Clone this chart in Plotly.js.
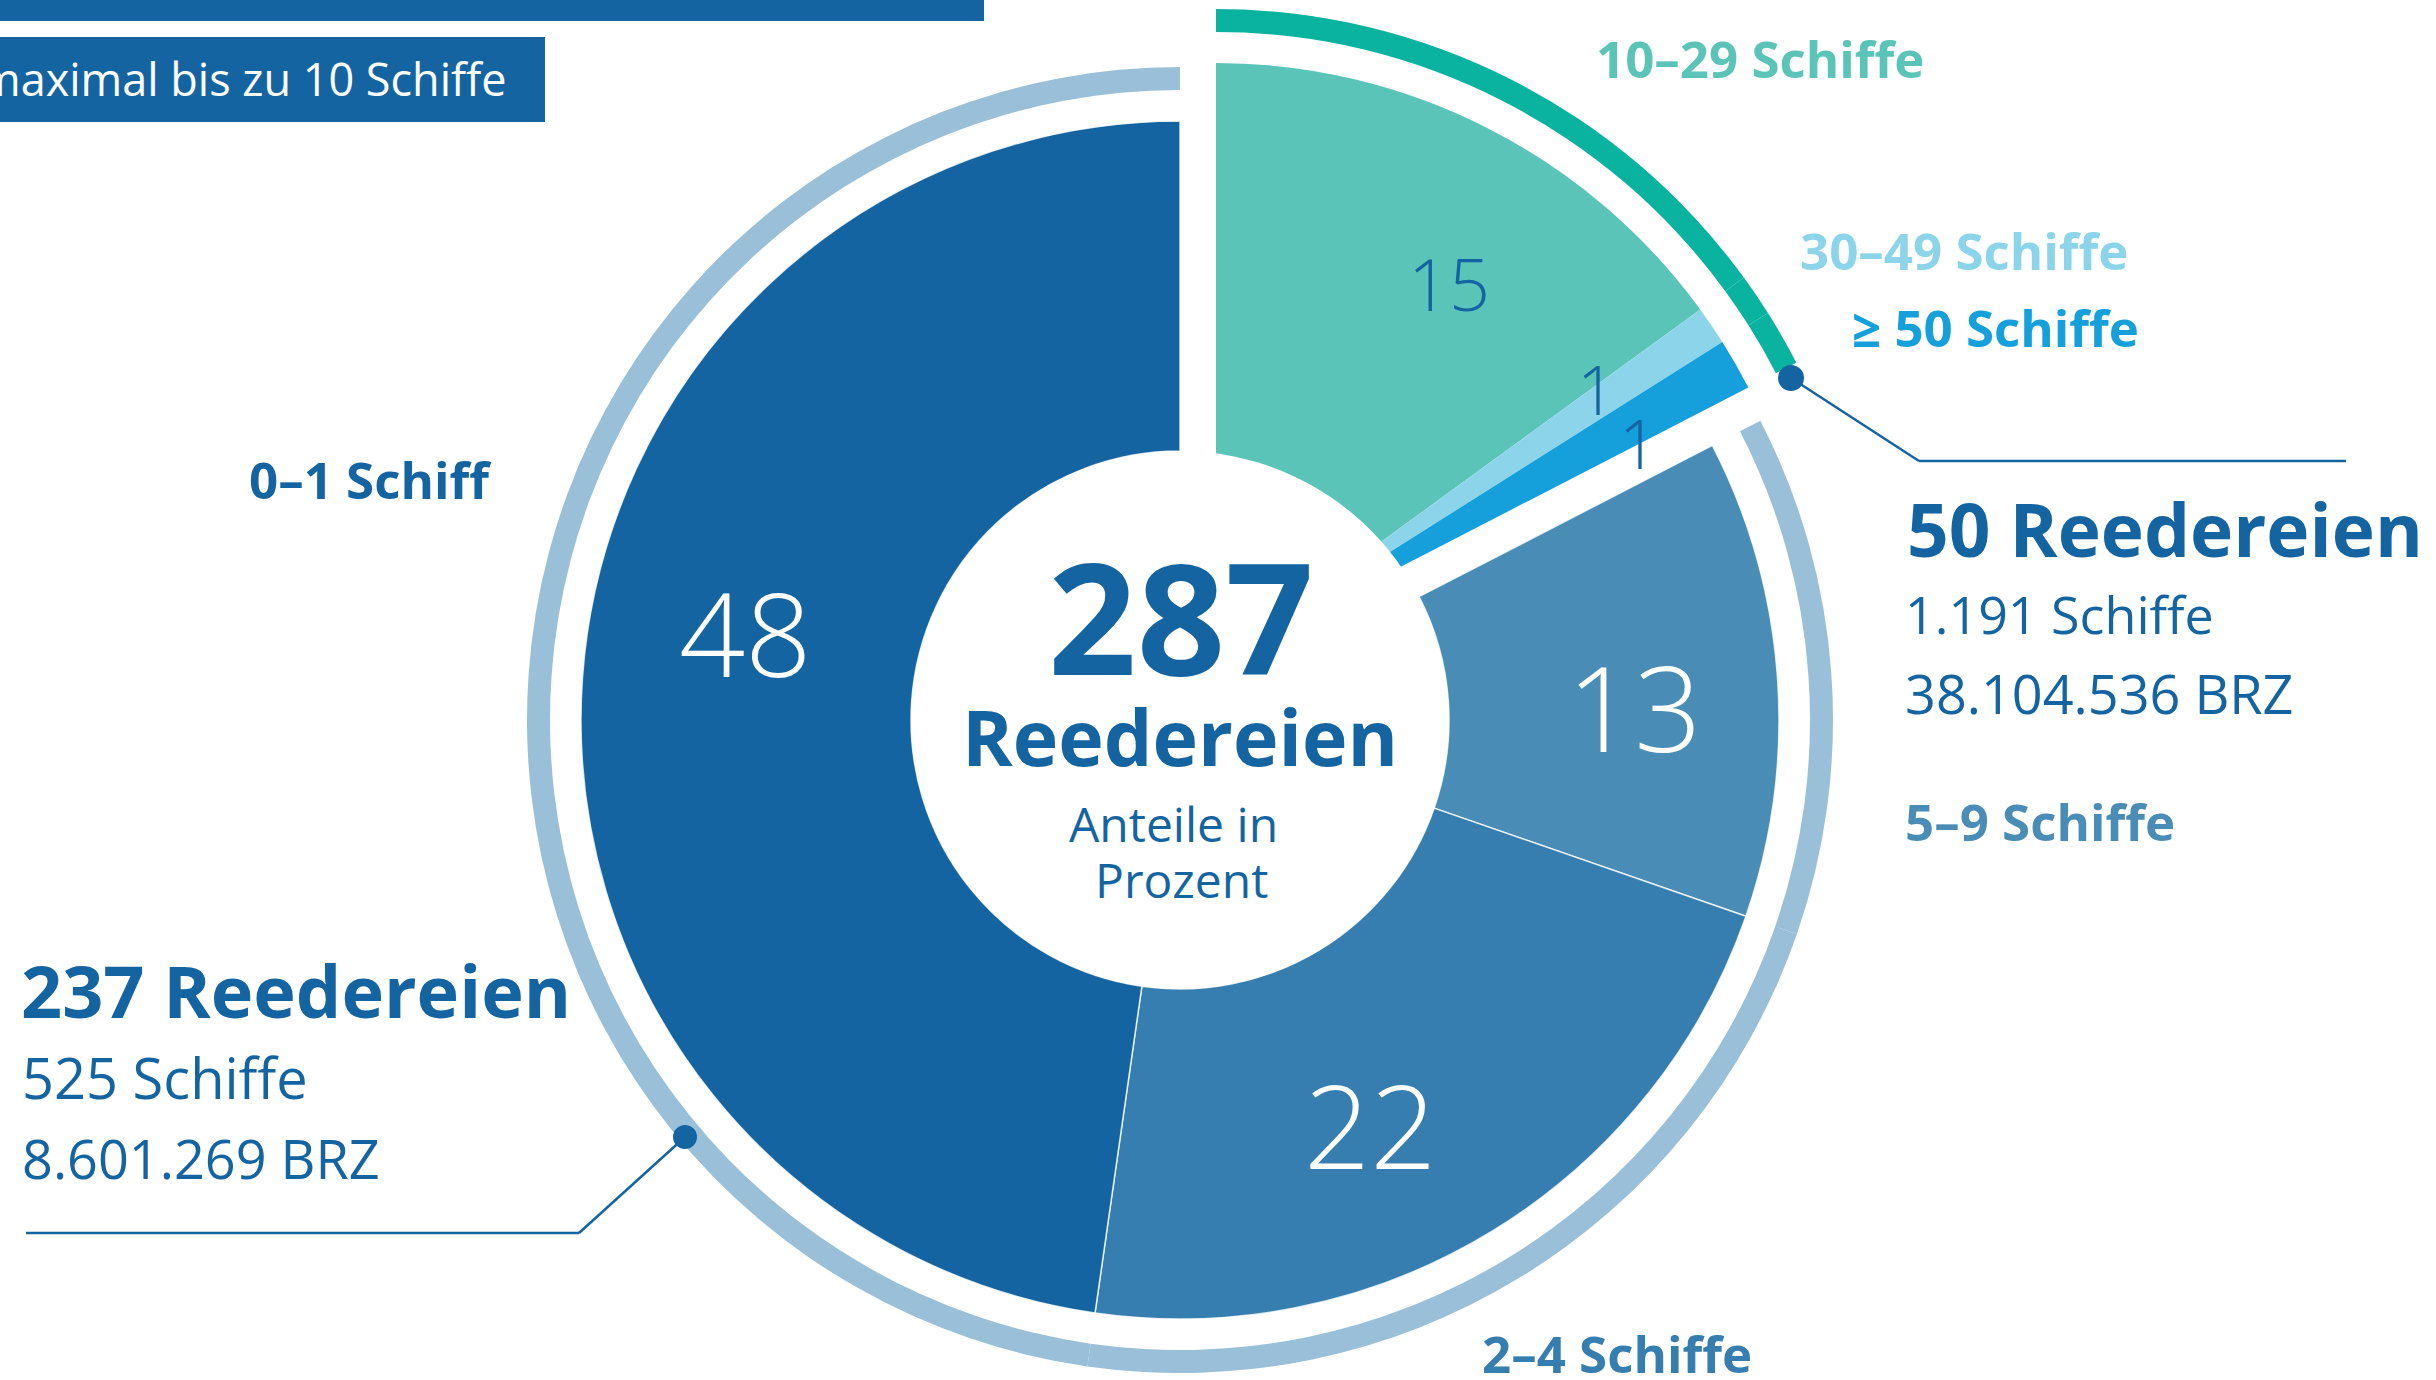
<!DOCTYPE html>
<html>
<head>
<meta charset="utf-8">
<script src="https://cdn.plot.ly/plotly-3.0.1.min.js"></script>
<style>
  html, body { margin: 0; padding: 0; background: #ffffff; overflow: hidden; }
  #chart { width: 2436px; height: 1380px; }
</style>
</head>
<body>
<div id="chart"></div>
<script>
// ---------------- DATA ----------------
const categories   = ['10–29 Schiffe', '30–49 Schiffe', '≥ 50 Schiffe', '5–9 Schiffe', '2–4 Schiffe', '0–1 Schiff'];
const companies    = [43, 3, 4, 37, 63, 137];          // Reedereien per class
const sharePct     = [15, 1, 1, 13, 22, 48];           // Anteile in Prozent (printed labels)
const isLargeGroup = [true, true, true, false, false, false];
const totalCompanies = 287;
const groupCompanies = [50, 237];                      // ≥10 Schiffe, ≤9 Schiffe
const groupShips     = ['1.191', '525'];
const groupBRZ       = ['38.104.536', '8.601.269'];
const headerText     = 'maximal bis zu 10 Schiffe';

// ---------------- STYLE ----------------
const W = 2436, H = 1380;
const DARK = '#1564A2';
const sliceColors = ['#5BC4B8', '#8CD4EA', '#159FDB', '#498DB7', '#367EAF', '#1564A2'];
const labelColors = ['#5BC4B8', '#8CD4EA', '#159FDB', '#498DB7', '#367EAF', '#1564A2'];
const numColors   = [DARK, DARK, DARK, '#ffffff', '#ffffff', '#ffffff'];
const ringColor = '#9AC0D9';
const arcColor  = '#0AB39F';
const CLEAR = 'rgba(0,0,0,0)';
const FONT = '"Open Sans", "Noto Sans", sans-serif';

const X = px => px / W;
const Y = py => 1 - py / H;
function dom(cx, cy, R) { return { x: [X(cx - R), X(cx + R)], y: [Y(cy + R), Y(cy - R)] }; }

// geometry
const C  = [1180, 720];       // main centre
const C2 = [1216, 662];       // pulled-out group centre
const R_PIE = 599, R_HOLE = 269, R_RING_OUT = 653, R_RING_IN = 630;

const base = {
  type: 'pie', values: companies, labels: categories, sort: false,
  direction: 'clockwise', rotation: 0, textinfo: 'none', hoverinfo: 'skip', showlegend: false
};

const traces = [
  Object.assign({}, base, {  // light-blue ring around the ≤9-ship group
    domain: dom(C[0], C[1], R_RING_OUT), hole: R_RING_IN / R_RING_OUT,
    marker: { colors: isLargeGroup.map(b => b ? CLEAR : ringColor), line: { width: 0 } }
  }),
  Object.assign({}, base, {  // ≤9-ship slices
    domain: dom(C[0], C[1], R_PIE), hole: R_HOLE / R_PIE,
    marker: { colors: sliceColors.map((c, i) => isLargeGroup[i] ? CLEAR : c),
              line: { color: 'rgba(255,255,255,0.8)', width: isLargeGroup.map(b => b ? 0 : 1.5) } }
  }),
  Object.assign({}, base, {  // ≥10-ship slices (pulled out)
    domain: dom(C2[0], C2[1], R_PIE), hole: 0,
    marker: { colors: sliceColors.map((c, i) => isLargeGroup[i] ? c : CLEAR), line: { width: 0 } }
  }),
  Object.assign({}, base, {  // teal arc around the ≥10-ship group
    domain: dom(C2[0], C2[1], R_RING_OUT), hole: R_RING_IN / R_RING_OUT,
    marker: { colors: isLargeGroup.map(b => b ? arcColor : CLEAR), line: { width: 0 } }
  })
];

// ---------------- SHAPES ----------------
function circle(cx, cy, r, color) {
  return { type: 'circle', xref: 'paper', yref: 'paper', x0: X(cx - r), x1: X(cx + r), y0: Y(cy + r), y1: Y(cy - r),
           fillcolor: color, line: { width: 0 }, layer: 'above' };
}
function line(x0, y0, x1, y1) {
  return { type: 'line', xref: 'paper', yref: 'paper', x0: X(x0), y0: Y(y0), x1: X(x1), y1: Y(y1),
           line: { color: DARK, width: 2.5 }, layer: 'above' };
}
const shapes = [
  circle(C[0], C[1], R_HOLE, '#ffffff'),
  { type: 'rect', xref: 'paper', yref: 'paper', x0: X(0), x1: X(984), y0: Y(21), y1: Y(0), fillcolor: DARK, line: { width: 0 } },
  { type: 'rect', xref: 'paper', yref: 'paper', x0: X(0), x1: X(545), y0: Y(122), y1: Y(37), fillcolor: DARK, line: { width: 0 } },
  line(1791, 378, 1919, 461), line(1919, 461, 2346, 461),
  line(685, 1137, 579, 1233), line(579, 1233, 26, 1233),
  circle(1791, 378, 13, DARK),
  circle(685, 1137, 12, DARK)
];

// ---------------- ANNOTATIONS ----------------
function ann(text, x, y, size, color, weight, xanchor) {
  return { text: text, x: X(x), y: Y(y), xref: 'paper', yref: 'paper', showarrow: false,
           xanchor: xanchor || 'center', yanchor: 'middle',
           font: { family: FONT, size: size, color: color, weight: weight || 400 } };
}
const annotations = [];
// slice values
const numPos = [[1449, 283, 72], [1596, 388, 68], [1638, 442, 68], [1634, 706, 118], [1370, 1124, 116], [745, 632, 116]];
sharePct.forEach((v, i) => annotations.push(ann(String(v), numPos[i][0], numPos[i][1], numPos[i][2], numColors[i], 300)));
// centre
annotations.push(ann(String(totalCompanies), 1181, 614, 155, DARK, 700));
annotations.push(ann('Reedereien', 1180, 736, 77, DARK, 700));
annotations.push(ann('Anteile in', 1173, 823, 48, DARK, 400));
annotations.push(ann('Prozent', 1181, 880, 48, DARK, 400));
// category labels
const catPos = [[1594, 58], [1798, 250], [1850, 327], [1903, 821], [1480, 1353], [247, 479]];
categories.forEach((c, i) => annotations.push(ann(c, catPos[i][0], catPos[i][1], 51, labelColors[i], 700, 'left')));
// group summaries
annotations.push(ann(groupCompanies[0] + ' Reedereien', 1905, 528, 73, DARK, 700, 'left'));
annotations.push(ann(groupShips[0] + ' Schiffe', 1903, 613, 52, DARK, 400, 'left'));
annotations.push(ann(groupBRZ[0] + ' BRZ', 1903, 693, 54, DARK, 400, 'left'));
annotations.push(ann(groupCompanies[1] + ' Reedereien', 19, 990, 72, DARK, 700, 'left'));
annotations.push(ann(groupShips[1] + ' Schiffe', 20, 1077, 56, DARK, 400, 'left'));
annotations.push(ann(groupBRZ[1] + ' BRZ', 20, 1158, 54, DARK, 400, 'left'));
// header box text (partially cut at the left edge, as in the original)
annotations.push(ann(headerText, 509, 79, 45, '#ffffff', 400, 'right'));

const layout = {
  width: W, height: H,
  margin: { l: 0, r: 0, t: 0, b: 0, pad: 0 },
  paper_bgcolor: '#ffffff', plot_bgcolor: '#ffffff',
  showlegend: false, hovermode: false,
  shapes: shapes, annotations: annotations
};

Plotly.newPlot('chart', traces, layout, { staticPlot: true, displayModeBar: false });
</script>
</body>
</html>
